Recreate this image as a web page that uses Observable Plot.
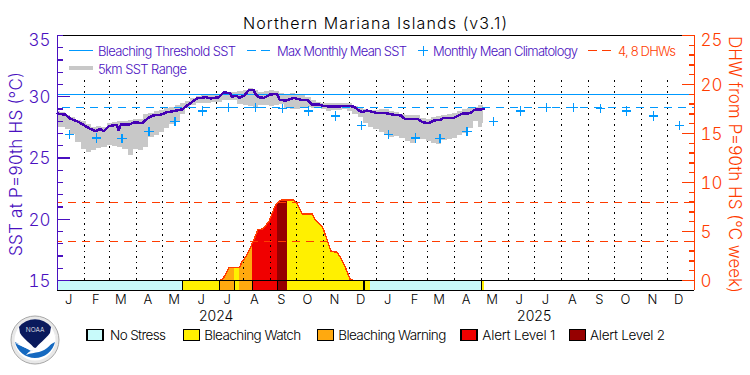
<!DOCTYPE html>
<html><head><meta charset="utf-8">
<script src="https://cdn.jsdelivr.net/npm/d3@7"></script>
<script src="https://cdn.jsdelivr.net/npm/@observablehq/plot@0.6"></script>
<style>
html,body{margin:0;padding:0;background:#fff}
#wrap{position:relative;width:750px;height:375px;overflow:hidden}
#wrap svg{position:absolute;left:0;top:0}
#wrap text{font-family:"Inter","Liberation Sans",sans-serif;font-weight:300}
#wrap svg g, #wrap svg path, #wrap svg line, #wrap svg rect{shape-rendering:crispEdges}
</style></head><body><div id="wrap"></div>
<script>
// ---------- data ----------
const threshold = 30.16, mmm = 29.1, dhwLevels = [4, 8];
const monthLetters = ["J","F","M","A","M","J","J","A","S","O","N","D"];
const years = [2024, 2025];
const climatology = [26.94,26.62,26.57,27.19,28.0,28.83,29.1,29.1,29.02,28.83,28.42,27.63];
const sstDays = [0,9,15,23,30,36,44,49,53,59,68,70,73,82,88,97,103,109,118,126,135,143,149,160,170,176,185,191,198,200,206,208,214,220,225,227,231,237,244,252,255,262,271,279,287,292,300,304,312,321,332,340,346,350,355,367,376,386,394,399,413,419,426,432,440,443,455,464,474,478,489];
const sstValues = [28.63,28.53,28.2,27.98,27.71,27.43,27.19,27.38,27.19,27.6,27.71,27.27,27.76,27.71,27.92,27.84,28.2,28.47,28.53,28.74,28.85,28.96,29.29,29.86,29.96,29.86,29.96,30.37,30.29,30.02,30.07,29.91,30.07,30.57,30.57,30.24,29.96,29.91,30.18,30.24,29.75,29.69,29.91,29.75,29.75,29.37,29.37,29.26,29.2,29.2,29.26,29.2,28.88,28.74,28.88,28.66,28.66,28.53,28.47,28.17,28.2,27.92,27.84,28.06,28.12,28.28,28.28,28.61,28.66,28.93,28.99];
const rangeDays = [0,6,12,18,24,30,36,42,48,54,60,66,72,78,84,90,96,102,108,114,120,126,132,138,144,150,156,162,168,174,180,186,192,198,204,210,216,222,228,234,240,246,252,258,264,270,276,282,288,294,300,306,312,318,324,330,336,342,348,354,360,366,372,378,384,390,396,402,408,414,420,426,432,438,444,450,456,462,468,474,480,486,489];
const rangeLow = [27.49,27.49,27.33,26.92,26.27,25.69,25.45,25.61,25.78,25.86,26.02,25.94,25.82,25.69,25.2,25.69,25.61,25.86,26.67,26.84,27.08,27.41,27.73,27.9,28.55,29.04,29.29,29.45,29.45,29.45,29.49,29.57,29.73,29.73,29.69,29.37,29.29,29.2,29.12,29.29,29.29,29.2,29.29,29.37,29.04,28.96,28.92,29.04,29.12,29.04,29.04,28.96,28.76,28.84,28.88,28.92,28.8,28.59,28.27,27.82,27.49,27.33,27.08,26.92,26.67,26.76,26.59,26.35,26.22,26.51,26.51,26.31,26.18,26.1,26.43,26.51,26.59,26.84,26.96,27.37,27.98,27.49,27.82];
const rangeHigh = [28.76,28.71,28.47,28.31,28.1,27.94,27.73,27.49,27.53,27.49,27.78,27.86,27.94,27.98,28.06,28.14,28.14,28.51,28.67,28.8,28.88,29.04,29.12,29.29,29.45,29.65,29.86,30.02,30.1,30.14,30.14,30.18,30.35,30.31,30.35,30.43,30.51,30.67,30.51,30.35,30.43,30.51,30.43,30.27,30.18,30.27,30.18,30.1,29.94,29.69,29.53,29.45,29.41,29.41,29.41,29.45,29.41,29.2,29.04,28.96,28.88,28.84,28.92,28.92,28.8,28.71,28.59,28.47,28.47,28.43,28.22,28.18,28.27,28.39,28.47,28.51,28.63,28.8,28.92,29.04,29.16,29.25,29.29];
const dhwDays = [186,190,197,203,209,212,216,220,224,225,230,236,243,250,253,254,257,264,271,275,281,292,296,304,311,314,321,327,331,336,341];
const dhwValues = [0,0.17,1.35,1.35,1.35,1.97,2.38,3.06,3.9,4.08,5.17,5.27,6.09,7.65,8.0,8.09,8.23,8.23,8.23,7.82,6.8,6.8,6.12,5.51,3.74,2.96,2.89,1.97,1.2,0.07,0];
const stageNames = ["No Stress","Bleaching Watch","Bleaching Warning","Alert Level 1","Alert Level 2"];
const stageColors = ["#c8fafa","#fff000","#ffa90f","#f00000","#960000"];
const periodStart = [0,144,186,203,209,224,253,264,353,359,487];
const periodEnd   = [144,186,203,209,224,253,264,352,359,487,490];
const periodStage = [0,1,2,1,2,3,4,1,1,0,1];
const stripBreaks = [144,186,203,224,253,487];
const stripHeavy = [352];
// ---------- helpers ----------
const day0 = Date.UTC(2024,0,1);
const toDate = d => new Date(day0 + d*864e5);
const dhwToSst = d => 15 + 0.8*d;
const PURPLE="#4a10c0", LINE="#4400b4", ORANGE="#ff3c00", BLUE="#0099ff";
const months = d3.utcMonths(new Date(day0), new Date(Date.UTC(2026,0,1)));
const monthRows = months.map((m,i)=>({date:d3.utcDay.offset(m,14),label:monthLetters[i%12],clim:climatology[i%12]}));
const sst = sstDays.map((d,i)=>({date:toDate(d),v:sstValues[i]}));
const range = rangeDays.map((d,i)=>({date:toDate(d),lo:rangeLow[i],hi:rangeHigh[i]}));
const dhw = dhwDays.map((d,i)=>({day:d,date:toDate(d),v:dhwToSst(dhwValues[i])}));
const yBottom = 14.18, dotTop = 31.33;
const periods = periodStart.map((s,i)=>({x1:toDate(s),x2:toDate(periodEnd[i]),stage:stageColors[periodStage[i]],s,e:periodEnd[i]}));
const stageAreas = periods.flatMap((p,i)=>dhw.filter(r=>r.day>=p.s&&r.day<=p.e).map(r=>({...r,id:i,fill:p.stage})));
const chart = Plot.plot({
  width:750,height:375,marginLeft:57,marginRight:56,marginTop:35,marginBottom:85,
  style:{background:"#fff",overflow:"visible"},
  x:{type:"utc",domain:[new Date(day0),new Date(Date.UTC(2026,0,1))],axis:null},
  y:{domain:[yBottom,35],axis:null},
  marks:[
    Plot.ruleX(months.slice(1),{y1:15,y2:dotTop,stroke:"#000",strokeWidth:1,strokeDasharray:"1.5,4"}),
    Plot.areaY(range,{x:"date",y1:"lo",y2:"hi",fill:"#c8c8c8",curve:"step"}),
    Plot.areaY(stageAreas,{x:"date",y1:15,y2:"v",z:"id",fill:"fill"}),
    Plot.ruleX(months.slice(1),{y1:15,y2:22.5,stroke:"#000",strokeWidth:1,strokeDasharray:"1.5,4"}),
    Plot.ruleY([threshold],{stroke:BLUE,strokeWidth:1}),
    Plot.ruleY([mmm],{stroke:BLUE,strokeWidth:1,strokeDasharray:"8,6",strokeDashoffset:9}),
    Plot.ruleY(dhwLevels.map(dhwToSst),{stroke:ORANGE,strokeWidth:1,strokeDasharray:"8,6",strokeDashoffset:3}),
    Plot.lineY(dhw,{x:"date",y:"v",stroke:ORANGE,strokeWidth:1.4}),
    Plot.lineY(sst,{x:"date",y:"v",stroke:LINE,strokeWidth:2.5}),
    Plot.dot(monthRows,{x:"date",y:"clim",symbol:"plus",r:3.1,stroke:BLUE,strokeWidth:1.3}),
    // status strip
    Plot.rect(periods,{x1:"x1",x2:"x2",y1:yBottom,y2:15,fill:"stage"}),
    Plot.ruleY([15,yBottom,35],{stroke:"#000",strokeWidth:1.2}),
    Plot.ruleX(stripBreaks.map(toDate),{y1:yBottom,y2:15,stroke:"#000",strokeWidth:1}),
    Plot.ruleX(stripHeavy.map(toDate),{y1:yBottom,y2:15,stroke:"#000",strokeWidth:2}),
    // axes
    Plot.axisY({anchor:"left",ticks:d3.range(15,36),tickSize:-6,stroke:PURPLE,tickFormat:()=>"",strokeWidth:1.4}),
    Plot.axisY({anchor:"left",ticks:[15,20,25,30],tickSize:-13,stroke:PURPLE,tickFormat:()=>"",strokeWidth:1.4}),
    Plot.ruleX([new Date(day0)],{y1:yBottom,y2:35,stroke:PURPLE,strokeWidth:1.6}),
    Plot.axisY({anchor:"right",ticks:d3.range(0,26).map(dhwToSst),tickSize:-6,stroke:ORANGE,tickFormat:()=>"",strokeWidth:1.4}),
    Plot.axisY({anchor:"right",ticks:[0,5,10,15,20,25].map(dhwToSst),tickSize:-13,stroke:ORANGE,tickFormat:()=>"",strokeWidth:1.4}),
    Plot.ruleX([new Date(Date.UTC(2026,0,1))],{y1:yBottom,y2:35,stroke:ORANGE,strokeWidth:1.6}),
    Plot.axisY({anchor:"left",ticks:[15,20,25,30],tickSize:0,tickPadding:7,fill:PURPLE,fontSize:17,tickFormat:d=>d,dy:1}),
    Plot.axisY({anchor:"left",ticks:[35],tickSize:0,tickPadding:7,fill:PURPLE,fontSize:17,tickFormat:d=>d,dy:5}),
    Plot.axisY({anchor:"right",ticks:[0,5,10,15,20].map(dhwToSst),tickSize:0,tickPadding:6,fill:ORANGE,fontSize:17,tickFormat:d=>(d-15)/0.8,dy:1}),
    Plot.axisY({anchor:"right",ticks:[dhwToSst(25)],tickSize:0,tickPadding:6,fill:ORANGE,fontSize:17,tickFormat:d=>(d-15)/0.8,dy:5}),
    // month and year labels
    Plot.text(monthRows,{x:"date",y:13.45,text:"label",fill:"#000",fontSize:13,dx:-1}),
    Plot.text(years,{x:y=>new Date(Date.UTC(y,6,1)),y:12.05,text:String,fill:"#000",fontSize:14})
  ]
});
const wrap = document.getElementById("wrap");
wrap.appendChild(chart);
const ns="http://www.w3.org/2000/svg";
const ov=document.createElementNS(ns,"svg");
ov.setAttribute("width",750);ov.setAttribute("height",375);
let h="";
const T=(s,x,y,w,c,fs,extra="")=>{h+=`<text x="${x}" y="${y}" textLength="${w}" lengthAdjust="spacing" fill="${c}" font-size="${fs}" ${extra}>${s}</text>`;};
const L=(x1,x2,y,c,sw,dash="")=>{h+=`<line x1="${x1}" x2="${x2}" y1="${y}" y2="${y}" stroke="${c}" stroke-width="${sw}" ${dash?`stroke-dasharray="${dash}"`:""}/>`;};
T("Northern Mariana Islands (v3.1)",243,29,264,"#000",16);
L(69,93,50.7,BLUE,1);
T("Bleaching Threshold SST",98,55.5,138,PURPLE,13);
L(247,270,50.7,BLUE,1,"9,5");
T("Max Monthly Mean SST",277,55.5,130,PURPLE,13);
L(418,428,50.7,BLUE,1);
h+=`<line x1="423" x2="423" y1="46" y2="55.5" stroke="${BLUE}" stroke-width="1"/>`;
T("Monthly Mean Climatology",433,55.5,145,PURPLE,13);
L(588,612,50.7,ORANGE,1,"9,5");
T("4, 8 DHWs",618,55.5,58,ORANGE,13);
L(69,93,68,"#c8c8c8",4.5);
T("5km SST Range",98,73.5,89,PURPLE,13);
// axis titles
T("SST at P=90th HS (°C)",0,0,184,PURPLE,17,`transform="translate(22,256) rotate(-90)"`);
T("DHW from P=90th HS (°C week)",0,0,257,ORANGE,17,`transform="translate(729,36) rotate(90)"`);
// bottom legend
const legendBox=[87,183.3,317.3,461,569.3], legendText=[110,204.3,338.3,482.3,590], legendWidth=[56,97,108,73,75];
stageNames.forEach((n,i)=>{
  h+=`<rect x="${legendBox[i]}" y="329.5" width="16" height="11" fill="${stageColors[i]}" stroke="#000" stroke-width="1.2"/>`;
  T(n,legendText[i],340,legendWidth[i],"#000",13.5);
});
// NOAA logo
h+=`<g transform="translate(35,340)" style="shape-rendering:auto">
<circle r="24" fill="#e8e8e8" stroke="#a8a8a8" stroke-width="1"/>
<circle r="20.5" fill="#fff"/>
<path style="shape-rendering:auto" d="M-20 2A20.5 20.5 0 0 0 20 2C10 8 2 9 -4 11C-10 8 -16 4 -20 2Z" fill="#1569c0"/>
<path style="shape-rendering:auto" d="M-16 -13A20.5 20.5 0 0 1 16 -13L15 -7C10 0 4 3 0 9C-4 3 -11 0 -15 -7Z" fill="#0a1a5c"/>
<path style="shape-rendering:auto" d="M-20 3C-10 5 -4 8 2 8C10 7 15 2 21 -6C18 4 12 10 4 12C0 13 -5 13 -9 15C-6 11 -4 11 -2 10C-8 9 -14 6 -20 3Z" fill="#fff"/>
<text x="0" y="-8" fill="#fff" font-size="6.5" font-weight="bold" text-anchor="middle">NOAA</text>
</g>`;
ov.innerHTML=h;
wrap.appendChild(ov);
</script></body></html>
